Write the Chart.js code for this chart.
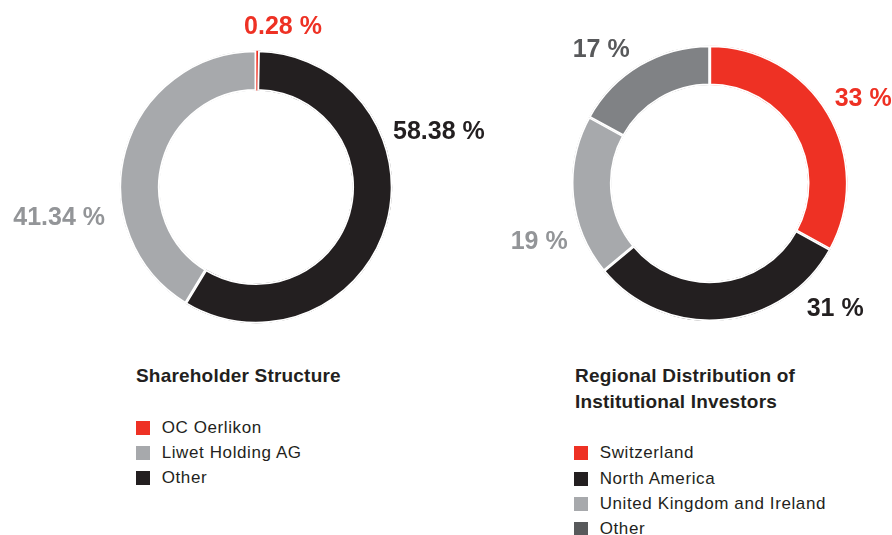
<!DOCTYPE html>
<html>
<head>
<meta charset="utf-8">
<script src="https://cdn.jsdelivr.net/npm/chart.js@4/dist/chart.umd.min.js"></script>
<style>
  html, body { margin: 0; padding: 0; background: #fff; }
  body { width: 892px; height: 535px; position: relative; overflow: hidden;
         font-family: "Liberation Sans", Arial, Helvetica, sans-serif; color: #231F20; }
  canvas { position: absolute; top: 0; }
  #shareCanvas { left: 0; }
  #regionCanvas { left: 446px; }
  .title { position: absolute; font-weight: bold; font-size: 19px; line-height: 26px; letter-spacing: 0.2px; }
  .legend { position: absolute; }
  .legend .row { display: flex; align-items: center; height: 25.3px; font-size: 17px; letter-spacing: 0.6px; }
  .legend .swatch { width: 14px; height: 14px; margin-right: 11.7px; flex: none; }
</style>
</head>
<body>
<canvas id="shareCanvas" width="520" height="345"></canvas>
<canvas id="regionCanvas" width="446" height="345"></canvas>

<div class="title" style="left:136px; top:363px;">Shareholder Structure</div>
<div class="legend" id="shareLegend" style="left:136px; top:415px;"></div>

<div class="title" style="left:575px; top:363px;">Regional Distribution of<br>Institutional Investors</div>
<div class="legend" id="regionLegend" style="left:574px; top:440.7px;"></div>

<script>
// Shareholder structure (legend order)
const shareCategories = ['OC Oerlikon', 'Liwet Holding AG', 'Other'];
const shareValues = [0.28, 41.34, 58.38];
const shareColors = ['#EE3124', '#A7A9AC', '#231F20'];
const shareTextColors = ['#EE3124', '#939598', '#231F20'];
// clockwise from 12 o'clock: OC Oerlikon, Other, Liwet
const shareRingOrder = [0, 2, 1];

// Regional distribution of institutional investors
const regionCategories = ['Switzerland', 'North America', 'United Kingdom and Ireland', 'Other'];
const regionValues = [33, 31, 19, 17];
const regionColors = ['#EE3124', '#231F20', '#A7A9AC', '#808285'];
const regionSwatches = ['#EE3124', '#231F20', '#A7A9AC', '#58595B'];
const regionTextColors = ['#EE3124', '#231F20', '#939598', '#58595B'];

// value label placement, offsets from the ring centre (dy = cap centre)
const shareLabelPos = [
  { dx: 27, dy: -162, align: 'center' },
  { dx: -151, dy: 29, align: 'right' },
  { dx: 137, dy: -57, align: 'left' }
];
const regionLabelPos = [
  { dx: 125, dy: -86, align: 'left' },
  { dx: 97, dy: 124, align: 'left' },
  { dx: -142, dy: 57, align: 'right' },
  { dx: -80, dy: -135, align: 'right' }
];

const LABEL_SIZE = 25;

const ringLabels = {
  id: 'ringLabels',
  afterDraw(chart, args, opts) {
    const arc = chart.getDatasetMeta(0).data[0];
    if (!arc) return;
    const ctx = chart.ctx;
    ctx.save();
    ctx.font = 'bold ' + LABEL_SIZE + 'px "Liberation Sans", Arial, sans-serif';
    ctx.textBaseline = 'alphabetic';
    opts.items.forEach(item => {
      ctx.fillStyle = item.color;
      ctx.textAlign = item.align;
      ctx.fillText(item.text, arc.x + item.dx, arc.y + item.dy + LABEL_SIZE * 0.716 / 2);
    });
    ctx.restore();
  }
};

function ringChart(canvasId, values, colors, borders, radius, cutout, padding, items) {
  return new Chart(document.getElementById(canvasId), {
    type: 'doughnut',
    data: {
      datasets: [{
        data: values,
        backgroundColor: colors,
        borderColor: '#ffffff',
        borderWidth: borders,
        borderAlign: 'inner',
        hoverOffset: 0
      }]
    },
    options: {
      responsive: false,
      animation: false,
      radius: radius,
      cutout: cutout,
      rotation: 0,
      layout: { padding: padding },
      events: [],
      plugins: {
        legend: { display: false },
        tooltip: { enabled: false },
        ringLabels: { items: items }
      }
    },
    plugins: [ringLabels]
  });
}

// left ring
const shareItems = shareCategories.map((c, i) => ({
  text: shareValues[i].toFixed(2) + ' %',
  color: shareTextColors[i],
  dx: shareLabelPos[i].dx, dy: shareLabelPos[i].dy, align: shareLabelPos[i].align
}));
ringChart('shareCanvas',
  shareRingOrder.map(i => shareValues[i]),
  shareRingOrder.map(i => shareColors[i]),
  shareRingOrder.map(i => (shareValues[i] < 1 ? 0 : 1.5)),
  136.5, '70.5%',
  { left: 116, right: 124, top: 47, bottom: 18 },
  shareItems);

// right ring
const regionItems = regionCategories.map((c, i) => ({
  text: regionValues[i] + ' %',
  color: regionTextColors[i],
  dx: regionLabelPos[i].dx, dy: regionLabelPos[i].dy, align: regionLabelPos[i].align
}));
ringChart('regionCanvas', regionValues, regionColors, 1.5,
  138, '71%',
  { left: 123.7, right: 42.3, top: 43.3, bottom: 21.7 },
  regionItems);

// legends
function buildLegend(id, names, swatches) {
  const box = document.getElementById(id);
  names.forEach((name, i) => {
    const row = document.createElement('div');
    row.className = 'row';
    const sw = document.createElement('span');
    sw.className = 'swatch';
    sw.style.background = swatches[i];
    const txt = document.createElement('span');
    txt.textContent = name;
    row.appendChild(sw);
    row.appendChild(txt);
    box.appendChild(row);
  });
}
buildLegend('shareLegend', shareCategories, shareColors);
buildLegend('regionLegend', regionCategories, regionSwatches);
</script>
</body>
</html>
